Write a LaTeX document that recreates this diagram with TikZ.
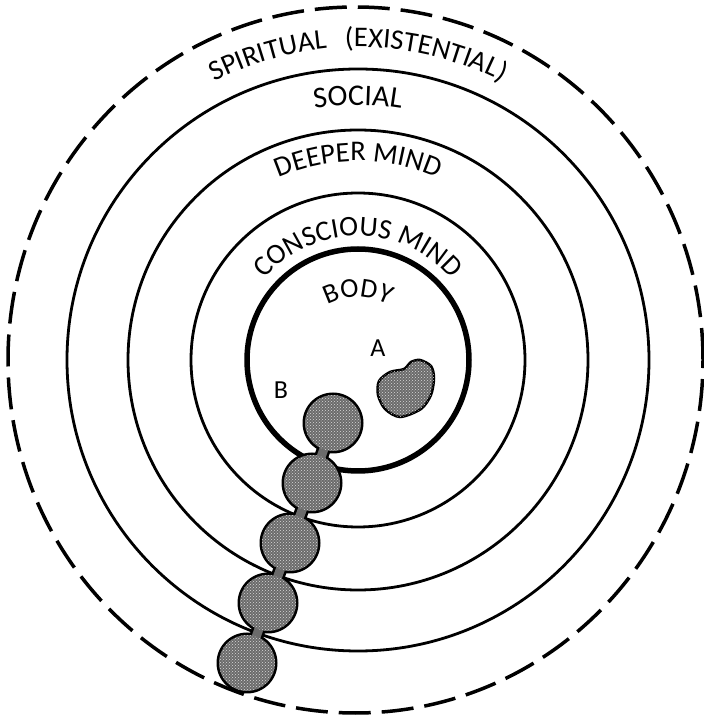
\documentclass[tikz,border=0pt]{standalone}
\usepackage{fontspec}
\setmainfont{Carlito}
\usetikzlibrary{decorations.text,patterns}
\newcommand\lblfont{\fontsize{28.5}{30}\selectfont}
\newcommand\socfont{\fontsize{30}{32}\selectfont}
\newcommand\bodfont{\fontsize{27.5}{29}\selectfont}
\begin{document}
\begin{tikzpicture}[x=1pt,y=1pt,
  ring/.style={line width=2.8pt},
  bodyring/.style={line width=5.5pt},
  outerring/.style={line width=3.5pt, dash pattern=on 32pt off 11pt},
  arclabel/.style={decorate, decoration={text along path, text align=center, text={#1}}},
  blobfill/.style={black!58},
  blobtex/.style={pattern=crosshatch dots, pattern color=white!85!black},
  letter/.style={font=\fontsize{26}{28}\selectfont, inner sep=0pt}
]
\useasboundingbox (0,0) rectangle (704,718);
\coordinate (C) at (358,358);
\coordinate (E) at (355.5,358);
% rings
\draw[outerring] (E) ellipse [x radius=347.5, y radius=353];
\draw[ring] (C) circle[radius=291];
\draw[ring] (C) circle[radius=230];
\draw[ring] (C) circle[radius=167];
\draw[bodyring] (C) circle[radius=111];
% labels along arcs
\path[arclabel={|\lblfont|SPIRITUAL{\kern18pt}(EXISTENTIAL)}]
  ([shift={(130:313)}]C) arc[start angle=130, end angle=50, radius=313];
\path[arclabel={|\socfont|SOCIAL}]
  ([shift={(120:255)}]C) arc[start angle=120, end angle=60, radius=255];
\path[arclabel={|\lblfont|DEEPER MIND}]
  ([shift={(135:199)}]C) arc[start angle=135, end angle=45, radius=199];
\path[arclabel={|\lblfont|CONSCIOUS MIND}]
  ([shift={(175:124)}]C) arc[start angle=175, end angle=5, radius=124];
\path[arclabel={|\bodfont|BODY}]
  ([shift={(150:63)}]C) arc[start angle=150, end angle=30, radius=63];
% point labels
\node[letter] (lblA) at (378,370) {A};
\node[letter] (lblB) at (281,328) {B};
% blob A
\filldraw[fill=black!58, line width=2.5pt]
  plot[smooth cycle] coordinates {(420,358) (431,352) (434,340) (431,323) (421,309) (400,301) (385,309) (378,323) (379,337) (390,346) (404,349) (411,356)};
\fill[blobtex]
  plot[smooth cycle] coordinates {(420,358) (431,352) (434,340) (431,323) (421,309) (400,301) (385,309) (378,323) (379,337) (390,346) (404,349) (411,356)};
% chain of blobs
\coordinate (b1) at (333,295);
\coordinate (b2) at (312,235);
\coordinate (b3) at (290,175);
\coordinate (b4) at (268,115);
\coordinate (b5) at (247,55);
\draw[line width=14pt] (b1) -- (b2) -- (b3) -- (b4) -- (b5);
\foreach \b in {b1,b2,b3,b4,b5} \fill (\b) circle[radius=30.5];
\draw[line width=9pt, blobfill] (b1) -- (b2) -- (b3) -- (b4) -- (b5);
\foreach \b in {b1,b2,b3,b4,b5} {
  \fill[blobfill] (\b) circle[radius=28];
  \fill[blobtex] (\b) circle[radius=28];
}
\end{tikzpicture}
\end{document}
